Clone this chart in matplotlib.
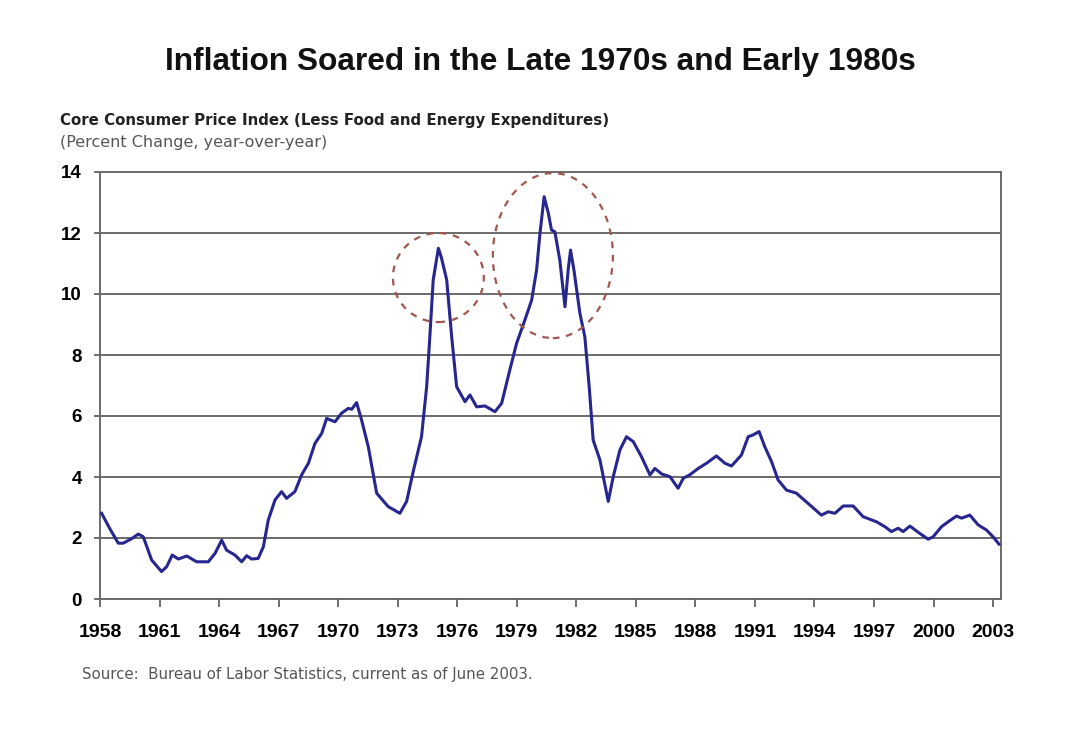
import matplotlib.pyplot as plt
from matplotlib.patches import Ellipse

# --- dane (rok, % r/r) ---
years = [1958.08, 1958.5, 1958.92, 1959.17, 1959.6, 1959.93, 1960.18, 1960.6, 1961.1, 1961.36,
         1961.64, 1961.95, 1962.37, 1962.87, 1963.46, 1963.8, 1964.13, 1964.38, 1964.8, 1965.14,
         1965.39, 1965.64, 1965.97, 1966.23, 1966.48, 1966.82, 1967.15, 1967.4, 1967.82, 1968.16,
         1968.5, 1968.83, 1969.17, 1969.42, 1969.84, 1970.17, 1970.51, 1970.68, 1970.93, 1971.18,
         1971.52, 1971.94, 1972.52, 1973.11, 1973.45, 1973.8, 1974.2, 1974.46, 1974.62, 1974.79,
         1975.05, 1975.2, 1975.47, 1975.72, 1975.97, 1976.39, 1976.64, 1976.98, 1977.4, 1977.9,
         1978.24, 1978.65, 1978.99, 1979.41, 1979.75, 1980.0, 1980.17, 1980.38, 1980.59, 1980.75,
         1980.92, 1981.17, 1981.43, 1981.59, 1981.71, 1981.88, 1982.18, 1982.43, 1982.65, 1982.85,
         1983.19, 1983.61, 1983.86, 1984.2, 1984.53, 1984.87, 1985.28, 1985.71, 1985.96, 1986.3,
         1986.72, 1987.13, 1987.39, 1987.72, 1988.14, 1988.56, 1989.06, 1989.49, 1989.82, 1990.32,
         1990.66, 1990.91, 1991.21, 1991.5, 1991.84, 1992.17, 1992.59, 1993.09, 1993.77, 1994.35,
         1994.69, 1995.03, 1995.45, 1995.95, 1996.45, 1997.13, 1997.55, 1997.88, 1998.22, 1998.47,
         1998.81, 1999.31, 1999.73, 1999.98, 2000.4, 2000.82, 2001.16, 2001.41, 2001.83, 2002.25,
         2002.67, 2003.0, 2003.3]
core_cpi = [2.81, 2.3, 1.83, 1.83, 1.98, 2.13, 2.04, 1.28, 0.9, 1.06,
            1.44, 1.31, 1.41, 1.22, 1.22, 1.5, 1.93, 1.6, 1.44, 1.22,
            1.42, 1.31, 1.33, 1.71, 2.59, 3.25, 3.52, 3.3, 3.52, 4.07,
            4.45, 5.1, 5.43, 5.92, 5.81, 6.09, 6.25, 6.22, 6.44, 5.87,
            4.99, 3.47, 3.03, 2.81, 3.2, 4.23, 5.32, 6.96, 8.6, 10.46,
            11.5, 11.2, 10.46, 8.6, 6.96, 6.47, 6.69, 6.3, 6.33, 6.14,
            6.42, 7.51, 8.38, 9.15, 9.8, 10.79, 11.99, 13.19, 12.65, 12.1,
            12.04, 11.11, 9.58, 10.79, 11.44, 10.79, 9.37, 8.6, 6.96, 5.21,
            4.56, 3.2, 4.01, 4.89, 5.32, 5.16, 4.67, 4.07, 4.28, 4.1,
            4.01, 3.63, 3.96, 4.07, 4.28, 4.45, 4.69, 4.45, 4.36, 4.72,
            5.32, 5.38, 5.49, 4.99, 4.5, 3.9, 3.57, 3.47, 3.08, 2.75,
            2.86, 2.81, 3.05, 3.05, 2.7, 2.53, 2.37, 2.21, 2.32, 2.21,
            2.39, 2.15, 1.96, 2.04, 2.37, 2.57, 2.72, 2.65, 2.75, 2.43,
            2.26, 2.04, 1.8]

tick_years = list(range(1958, 2004, 3))
y_ticks = [0, 2, 4, 6, 8, 10, 12, 14]

# --- figura ---
plt.rcParams['font.family'] = ['Liberation Sans', 'DejaVu Sans']
fig = plt.figure(figsize=(10.8, 7.48), dpi=100)
ax = fig.add_axes([100 / 1080, 1 - 599 / 748, 901 / 1080, 427 / 748])

ax.plot(years, core_cpi, color="#26268f", lw=2.2, zorder=3)

# obwódki wokół szczytów
for (cx, cy, w, h) in [(1975.05, 10.54, 4.58, 2.92), (1980.82, 11.26, 6.05, 5.41)]:
    ax.add_patch(Ellipse((cx, cy), w, h, fill=False, ec="#a0574e", lw=1.6,
                         ls=(0, (3, 3)), clip_on=False, zorder=4))

ax.set_xlim(1958, 2003.4)
ax.set_ylim(0, 14)
ax.set_xticks(tick_years)
ax.set_xticklabels([str(y) for y in tick_years], fontsize=14, fontweight="bold")
ax.set_yticks(y_ticks)
ax.set_yticklabels([str(v) for v in y_ticks], fontsize=13.5, fontweight="bold")
ax.tick_params(axis="x", direction="out", length=6, width=1.2, color="#555555", pad=12)
ax.tick_params(axis="y", direction="out", length=4, width=1.2, color="#555555", pad=9)

ax.grid(axis="y", color="#6a6a6a", lw=1.4, zorder=1)
for s in ax.spines.values():
    s.set_color("#6a6a6a")
    s.set_linewidth(1.4)

# --- teksty ---
fig.text(0.5, 1 - 62 / 748, "Inflation Soared in the Late 1970s and Early 1980s",
         ha="center", va="center", fontsize=22.8, fontweight="bold", color="#111111")
fig.text(60 / 1080, 1 - 120 / 748, "Core Consumer Price Index (Less Food and Energy Expenditures)",
         ha="left", va="center", fontsize=10.8, fontweight="bold", color="#222222",
         family="DejaVu Sans")
fig.text(60 / 1080, 1 - 142 / 748, "(Percent Change, year-over-year)",
         ha="left", va="center", fontsize=11.5, color="#555555", family="DejaVu Sans")
fig.text(82 / 1080, 1 - 675 / 748, "Source:  Bureau of Labor Statistics, current as of June 2003.",
         ha="left", va="center", fontsize=10.8, color="#555555", family="DejaVu Sans")

plt.savefig("out.png", dpi=100)
